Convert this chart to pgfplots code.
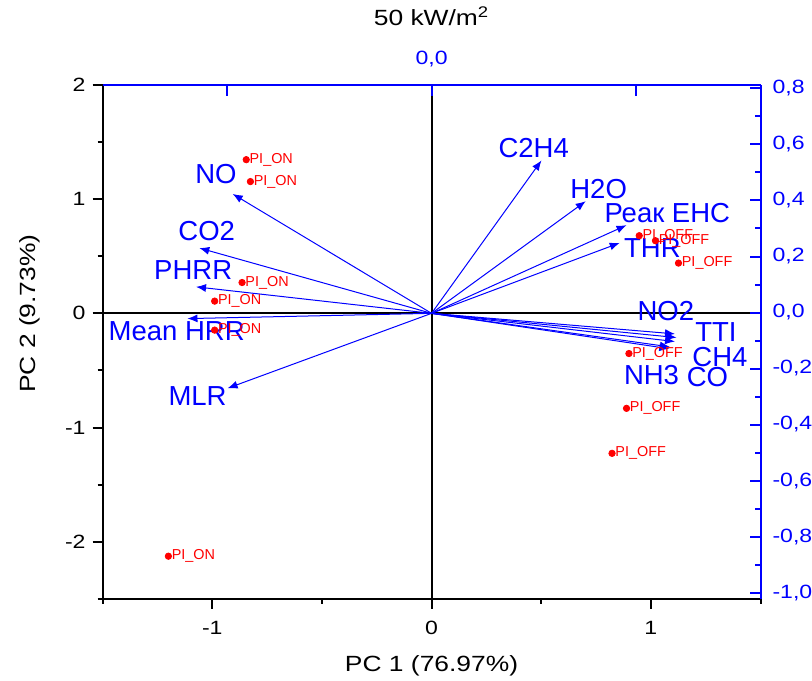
\documentclass[border=0pt]{standalone}
\usepackage{pgfplots}
\pgfplotsset{compat=1.18}
\usepackage{pgfplotstable}
\usetikzlibrary{arrows.meta}
\usepackage{fontspec}
\setmainfont{Liberation Sans}
\newfontfamily\axfont[FakeStretch=1.2]{Liberation Sans}
\definecolor{obl}{RGB}{0,0,255}
\definecolor{ored}{RGB}{255,0,0}
\newcommand{\tickfont}{\axfont\fontsize{9.6}{11}\selectfont}
\newcommand{\titfont}{\axfont\fontsize{11}{13}\selectfont}
\newcommand{\vecfont}{\fontsize{13.75}{16}\selectfont}
\newcommand{\ptfont}{\fontsize{7.2}{8.5}\selectfont}

\pgfplotstableread{
x y
-0.907 1.046
-1.059 0.572
-1.074 0.232
-1.113 -0.046
-0.930 -0.656
0.501 1.339
0.703 0.982
0.889 0.772
0.858 0.617
1.110 -0.180
1.117 -0.212
1.110 -0.247
1.087 -0.294
1.084 -0.310
}\loadings

\pgfplotstableread{
x y
-0.845 1.346
-0.826 1.154
-0.864 0.270
-0.989 0.107
-0.989 -0.147
-1.200 -2.127
}\pion

\pgfplotstableread{
x y
0.947 0.680
1.021 0.636
1.126 0.440
0.900 -0.352
0.889 -0.832
0.823 -1.226
}\pioff

\begin{document}
\begin{tikzpicture}
\begin{axis}[
  name=main,
  width=328.95pt, height=256.9pt, scale only axis,
  xmin=-1.5, xmax=1.5, ymin=-2.5, ymax=2,
  axis x line*=bottom, axis y line*=left,
  axis line style={black, line width=1pt, -},
  xtick={-1,0,1}, ytick={-2,-1,0,1,2},
  minor xtick={-1.5,-0.5,0.5,1.5},
  minor ytick={-2.5,-1.5,-0.5,0.5,1.5},
  tick align=outside,
  major tick length=5pt, minor tick length=2.5pt,
  every tick/.style={black, line width=1pt},
  tick label style={font=\tickfont},
  /pgf/number format/assume math mode=true,
  xticklabel style={yshift=-2.5pt},
  xlabel={PC 1 (76.97\%)},
  ylabel={PC 2 (9.73\%)},
  xlabel style={font=\titfont, at={(axis description cs:0.5,0)}, anchor=center, yshift=-33.5pt},
  ylabel style={font=\titfont, at={([xshift=-36.3pt]axis description cs:0,0.555)}, anchor=center},
  title={50 kW/m\textsuperscript{2}},
  title style={font=\titfont, at={(axis description cs:0.5,1)}, anchor=center, yshift=28.5pt},
  clip=false,
]
\coordinate (bbsw) at (rel axis cs:0,0);
\coordinate (bbne) at (rel axis cs:1,1);
\addplot[black, line width=1pt, mark=none] coordinates {(-1.5,0) (1.5,0)};
\addplot[black, line width=1pt, mark=none] coordinates {(0,-2.5) (0,2)};
\addplot[obl, line width=0.5pt, mark=none,
  quiver={u=\thisrow{x}, v=\thisrow{y}},
  -{Latex[length=5pt,width=4pt]}] table[x expr=0, y expr=0] {\loadings};
\addplot[only marks, mark=*, ored, mark size=1.6pt,
  nodes near coords={PI\_ON},
  every node near coord/.style={anchor=west, font=\ptfont, text=ored, inner sep=1.5pt}]
  table {\pion};
\addplot[only marks, mark=*, ored, mark size=1.6pt,
  nodes near coords={PI\_OFF},
  every node near coord/.style={anchor=west, font=\ptfont, text=ored, inner sep=1.5pt}]
  table {\pioff};
\begin{scope}[every node/.style={font=\vecfont, text=obl, inner sep=0pt}]
\node at (axis cs:-0.983,1.218) {NO};
\node at (axis cs:-1.025,0.723) {CO2};
\node at (axis cs:-1.087,0.380) {PHRR};
\node at (axis cs:-1.162,-0.156) {Mean HRR};
\node at (axis cs:-1.067,-0.720) {MLR};
\node at (axis cs:0.466,1.452) {C2H4};
\node at (axis cs:0.762,1.087) {H2O};
\node at (axis cs:1.075,0.880) {Реак EHC};
\node at (axis cs:1.007,0.572) {THR};
\node at (axis cs:1.068,0.019) {NO2};
\node at (axis cs:1.297,-0.168) {TTI};
\node at (axis cs:1.315,-0.386) {CH4};
\node at (axis cs:1.003,-0.539) {NH3};
\node at (axis cs:1.258,-0.561) {CO};
\end{scope}
\end{axis}
\begin{axis}[
  width=328.95pt, height=256.9pt, scale only axis,
  xmin=-0.805, xmax=0.805, ymin=-1.0223, ymax=0.8125,
  axis x line*=top, axis y line*=right,
  axis line style={obl, line width=1pt, -},
  xtick={-0.5,0,0.5}, xticklabels={{},{0,0},{}},
  ytick={-1,-0.8,-0.6,-0.4,-0.2,0,0.2,0.4,0.6,0.8},
  minor ytick={-0.9,-0.7,-0.5,-0.3,-0.1,0.1,0.3,0.5,0.7},
  tick align=inside,
  major tick length=5.3pt, minor tick length=2.8pt,
  every tick/.style={obl, line width=1pt},
  tick label style={font=\tickfont, text=obl},
  /pgf/number format/assume math mode=true,
  yticklabel style={/pgf/number format/.cd, use comma, fixed, fixed zerofill, precision=1, /tikz/.cd, xshift=2.5pt},
  xticklabel style={yshift=5.5pt},
]
\end{axis}
\pgfresetboundingbox
\path[use as bounding box] ([xshift=-51.3pt,yshift=-41.1pt]bbsw) rectangle ([xshift=25.75pt,yshift=42.5pt]bbne);
\end{tikzpicture}
\end{document}
